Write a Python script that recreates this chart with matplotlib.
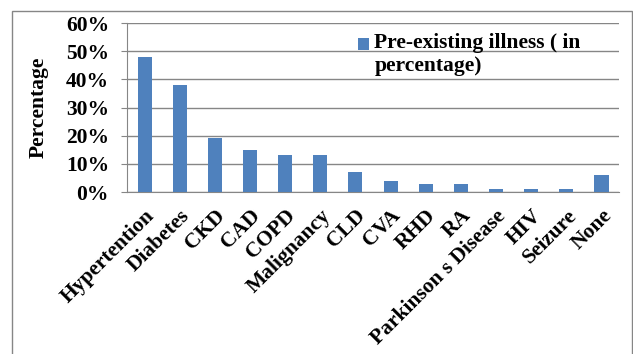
import matplotlib.pyplot as plt
import numpy as np
from matplotlib.patches import Rectangle
from matplotlib.legend_handler import HandlerPatch, update_from_first_child
from matplotlib.ticker import PercentFormatter

# Pre-existing illness data (percent)
illnesses = ['Hypertention', 'Diabetes', 'CKD', 'CAD', 'COPD', 'Malignancy', 'CLD',
             'CVA', 'RHD', 'RA', 'Parkinson s Disease', 'HIV', 'Seizure', 'None']
percent = [48, 38, 19, 15, 13, 13, 7, 4, 3, 3, 1, 1, 1, 6]
yticks = [0, 10, 20, 30, 40, 50, 60]

plt.rcParams['font.family'] = ['Liberation Serif', 'DejaVu Serif']
plt.rcParams['font.weight'] = 'bold'


# legend square sits next to the first line of the label, like in Excel
def top_square(legend, orig_handle, xdescent, ydescent, width, height, fontsize):
    return Rectangle((-xdescent, -ydescent + 0.5 * fontsize), width, height)


fig = plt.figure(figsize=(6.33, 3.54), dpi=100)
ax = fig.add_axes([0.2006, 0.4576, 0.7774, 0.4774])

x = np.arange(len(illnesses))
bars = ax.bar(x, percent, width=0.4, color='#4F81BD',
              label='Pre-existing illness ( in\npercentage)', zorder=3)

ax.set_xlim(-0.5, len(illnesses) - 0.5)
ax.set_ylim(0, 60)
ax.set_yticks(yticks)
ax.yaxis.set_major_formatter(PercentFormatter(decimals=0))
ax.grid(axis='y', color='#868686', linewidth=1.0, zorder=0)

for side in ['top', 'right']:
    ax.spines[side].set_visible(False)
ax.spines['left'].set_color('#868686')
ax.spines['bottom'].set_color('#868686')

ax.set_xticks(x)
ax.set_xticklabels(illnesses, rotation=45, ha='right', rotation_mode='anchor',
                   fontsize=15.5, fontweight='bold')
ax.tick_params(axis='x', length=0, pad=10)
ax.tick_params(axis='y', labelsize=15.5, color='#868686', length=4, pad=9)
for lbl in ax.get_yticklabels():
    lbl.set_fontweight('bold')

ax.set_ylabel('Percentage', fontsize=15.5, fontweight='bold', labelpad=12)

ax.legend(loc='upper left', bbox_to_anchor=(0.435, 1.04), frameon=False,
          handlelength=0.5, handleheight=0.5, handletextpad=0.25,
          labelspacing=0.1, borderpad=0.3,
          handler_map={type(bars): HandlerPatch(patch_func=top_square,
                                                update_func=update_from_first_child)},
          prop={'weight': 'bold', 'size': 15.5})

# outer border of the chart area
fig.patches.append(Rectangle((12 / 633, -0.05), 620 / 633, 1 - 11 / 354 + 0.05,
                             transform=fig.transFigure, fill=False,
                             edgecolor='#868686', linewidth=1.0))

fig.savefig('out.png', dpi=100)
